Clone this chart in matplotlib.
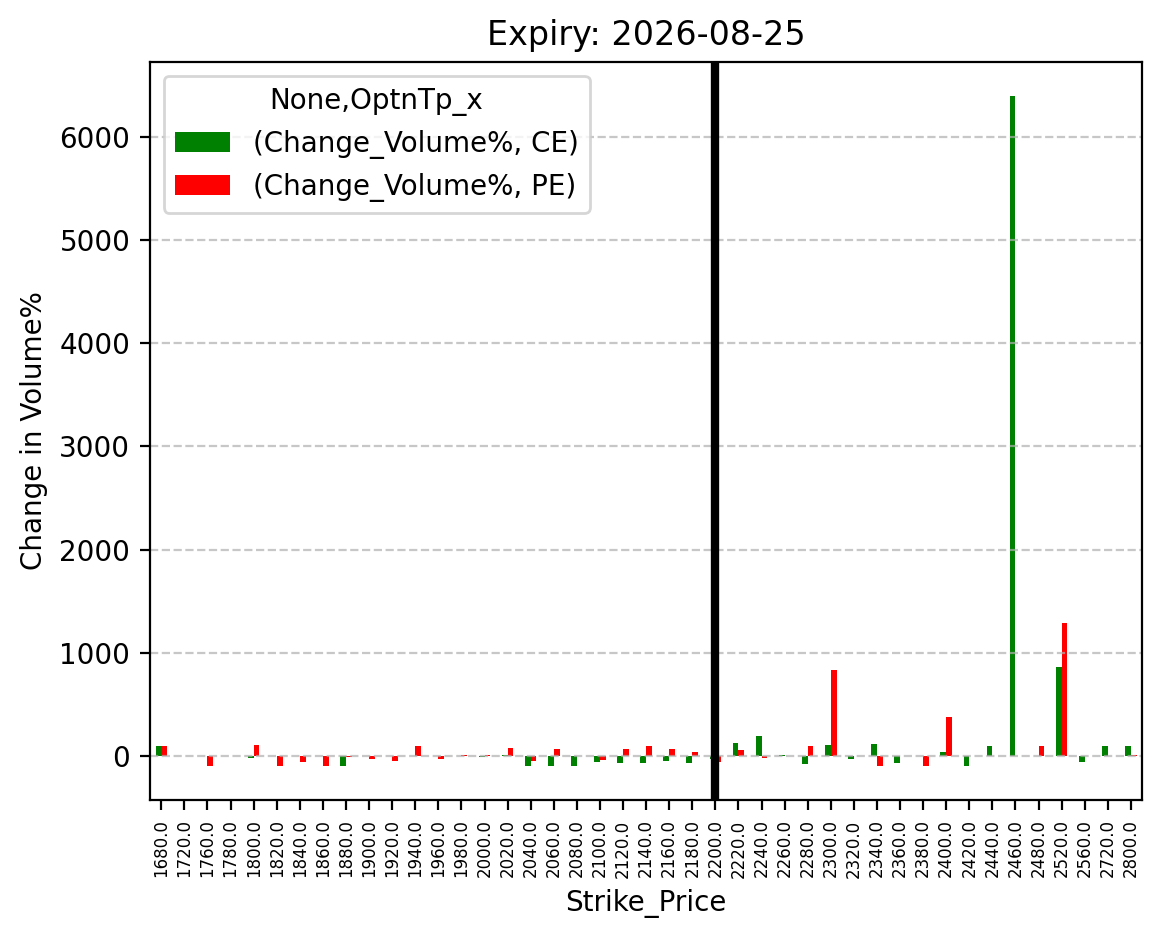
import matplotlib
matplotlib.use("Agg")
import matplotlib.pyplot as plt
import pandas as pd

strikes = [1680.0, 1720.0, 1760.0, 1780.0, 1800.0, 1820.0, 1840.0, 1860.0, 1880.0, 1900.0,
           1920.0, 1940.0, 1960.0, 1980.0, 2000.0, 2020.0, 2040.0, 2060.0, 2080.0, 2100.0,
           2120.0, 2140.0, 2160.0, 2180.0, 2200.0, 2220.0, 2240.0, 2260.0, 2280.0, 2300.0,
           2320.0, 2340.0, 2360.0, 2380.0, 2400.0, 2420.0, 2440.0, 2460.0, 2480.0, 2520.0,
           2560.0, 2720.0, 2800.0]

ce_change = [100, 0, 0, 0, -20, 0, 0, 0, -100, 0,
             0, 0, 0, 0, -5, 15, -100, -100, -100, -60,
             -70, -70, -50, -70, -30, 125, 200, 7, -80, 104,
             -32, 113, -71, 0, 36, -100, 100, 6400, 0, 861,
             -60, 100, 100]

pe_change = [100, 0, -100, 0, 112, -100, -60, -100, -5, -30,
             -50, 95, -30, 10, 15, 75, -50, 65, 0, -40,
             65, 95, 65, 45, -60, 55, -20, 0, 95, 832,
             0, -100, 0, -100, 375, 0, 0, 0, 100, 1288,
             0, 0, 16]

atm_strike = 2200.0
expiry = "2026-08-25"

# build the pivot-like frame the way the original pandas code would have
cols = pd.MultiIndex.from_tuples([("Change_Volume%", "CE"), ("Change_Volume%", "PE")],
                                 names=[None, "OptnTp_x"])
df = pd.DataFrame(list(zip(ce_change, pe_change)), index=pd.Index(strikes, name="Strike_Price"),
                  columns=cols)

fig = plt.figure(figsize=(1161 / 200, 939 / 200), dpi=200)
ax = fig.add_axes([0.129, 0.148, 0.855, 0.786])
df.plot(kind="bar", ax=ax, color=["green", "red"])

# mark the ATM strike
atm_idx = strikes.index(atm_strike)
ax.axvline(atm_idx, color="black", linewidth=3)

ax.grid(axis="y", linestyle="--", alpha=0.7)
ax.set_title(f"Expiry: {expiry}")
ax.set_ylabel("Change in Volume%")
ax.set_xlabel("Strike_Price")
ax.tick_params(axis="x", labelsize=6, rotation=90)
ax.legend(title="None,OptnTp_x", loc="upper left")

fig.savefig("out.png", dpi=200)
